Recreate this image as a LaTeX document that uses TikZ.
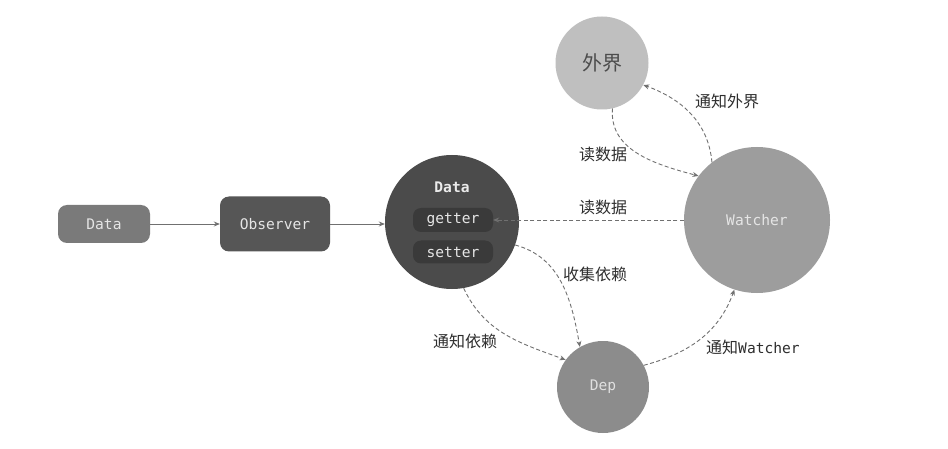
\documentclass[tikz,border=0pt]{standalone}
\usepackage{fontspec}
\setmonofont{DejaVu Sans Mono}
\newfontfamily\cjk{Noto Sans CJK SC}
\usetikzlibrary{arrows.meta}
\definecolor{cbox}{HTML}{7A7A7A}
\definecolor{cobs}{HTML}{565656}
\definecolor{cdata}{HTML}{4B4B4B}
\definecolor{cinner}{HTML}{3A3A3A}
\definecolor{cwj}{HTML}{BFBFBF}
\definecolor{cwat}{HTML}{9D9D9D}
\definecolor{cdep}{HTML}{8C8C8C}
\definecolor{cline}{HTML}{707070}
\definecolor{clab}{HTML}{2E2E2E}
\begin{document}
\begin{tikzpicture}[x=1pt,y=-1pt,
  mono/.style={font=\fontsize{14.6}{16}\ttfamily},
  rbox/.style={rounded corners=9pt, inner sep=0pt, mono, text=white!90!black},
  circ/.style={circle, inner sep=0pt},
  flow/.style={draw=cline, line width=0.9pt, -{Stealth[length=6pt,width=5pt]}},
  dflow/.style={flow, dash pattern=on 4pt off 2.5pt},
  lab/.style={font=\fontsize{16}{18}\cjk, text=clab}
]
\useasboundingbox (0,0) rectangle (948,449);
\fill[white] (0,0) rectangle (948,449);

\node[rbox, fill=cbox, minimum width=92pt, minimum height=38pt] (d0) at (104,224) {Data};
\node[rbox, fill=cobs, minimum width=110pt, minimum height=55pt] (obs) at (275,224) {Observer};
\node[circ, fill=cdata, minimum size=134pt] (dc) at (452,222) {};
\node[mono, font=\fontsize{14.6}{16}\ttfamily\bfseries, text=white!92!black] (dt) at (452,187) {Data};
\node[rbox, fill=cinner, rounded corners=8pt, minimum width=80pt, minimum height=24pt] (get) at (453,220) {getter};
\node[rbox, fill=cinner, rounded corners=8pt, minimum width=80pt, minimum height=23pt] (set) at (453,252) {setter};

\node[circ, fill=cwj, minimum size=93pt, font=\fontsize{20}{22}\cjk, text=black!70] (wj) at (602,63) {外界};
\node[circ, fill=cwat, minimum size=146pt, mono, text=white!90!black] (wat) at (757,220) {Watcher};
\node[circ, fill=cdep, minimum size=92pt, mono, text=white!88!black] (dep) at (603,387) {Dep};

\draw[flow] (d0.east) -- (obs.west);
\draw[flow] (obs.east) -- (dc.west |- obs.east);
\draw[dflow] (wat.west) -- (get.east);
\draw[dflow] (wj.-77) to[out=-95, in=165] (wat.143);
\draw[dflow] (wat.128) to[out=95, in=-20] (wj.-28);
\draw[dflow] (dc.-20) to[out=-15, in=100] (dep.120);
\draw[dflow] (dc.-80) to[out=-65, in=160] (dep.144);
\draw[dflow] (dep.28) to[out=15, in=-110] (wat.-108);

\node[lab] (l1) at (603,154) {读数据};
\node[lab] (l2) at (727,101) {通知外界};
\node[lab] (l3) at (603,207) {读数据};
\node[lab] (l4) at (595,274) {收集依赖};
\node[lab] (l5) at (465,341) {通知依赖};
\node[lab] (l6) at (753,347) {通知\fontsize{14.6}{16}\ttfamily Watcher};
\end{tikzpicture}
\end{document}
